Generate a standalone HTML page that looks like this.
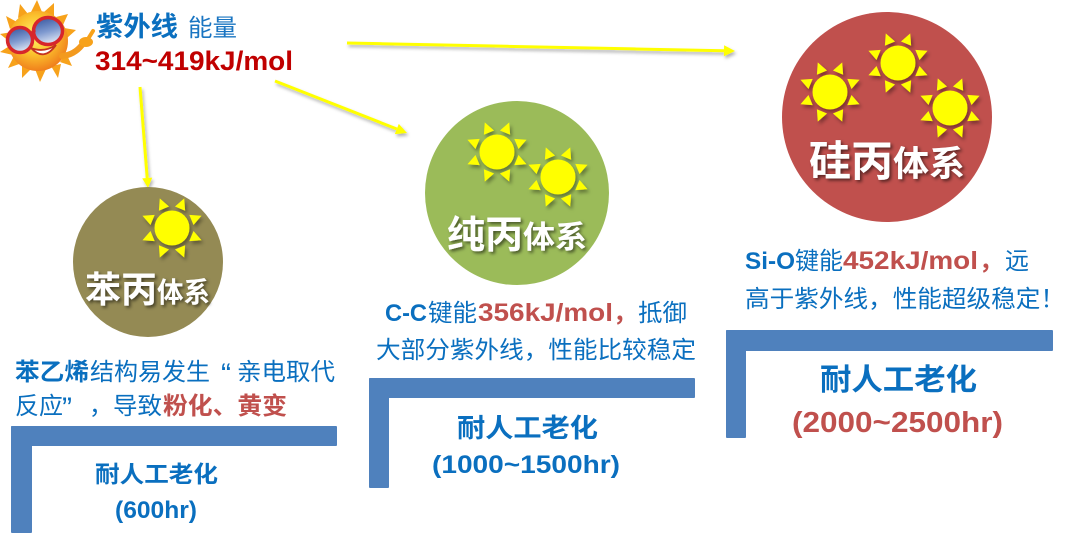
<!DOCTYPE html>
<html>
<head>
<meta charset="utf-8">
<style>
  html,body{margin:0;padding:0;background:#fff;}
  svg{display:block;}
  text{font-family:"Liberation Sans","Noto Sans CJK SC",sans-serif;}
  .cjk{font-family:"Liberation Sans","Noto Sans CJK SC",sans-serif;}
  .b{font-weight:bold;}
  .blue{fill:#0a6fbf;}
  .red{fill:#c0504d;}
  .white{fill:#ffffff;font-weight:bold;}
</style>
</head>
<body>
<svg width="1080" height="540" viewBox="0 0 1080 540" xmlns="http://www.w3.org/2000/svg">
  <defs>
    <filter id="sh" x="-30%" y="-30%" width="160%" height="160%">
      <feDropShadow dx="2" dy="3" stdDeviation="1.8" flood-color="#000" flood-opacity="0.35"/>
    </filter>
    <filter id="tsh" x="-20%" y="-20%" width="140%" height="150%">
      <feDropShadow dx="2" dy="2" stdDeviation="1.5" flood-color="#000" flood-opacity="0.55"/>
    </filter>
    <filter id="ash" x="-10%" y="-50%" width="120%" height="200%">
      <feDropShadow dx="1.5" dy="2.5" stdDeviation="1.5" flood-color="#000" flood-opacity="0.3"/>
    </filter>
    <radialGradient id="face" cx="45%" cy="40%" r="60%">
      <stop offset="0" stop-color="#fff46a"/>
      <stop offset="0.55" stop-color="#fbc02d"/>
      <stop offset="1" stop-color="#f0801c"/>
    </radialGradient>
    <linearGradient id="lens" x1="0" y1="0" x2="0.3" y2="1">
      <stop offset="0" stop-color="#2f4f9a"/>
      <stop offset="0.6" stop-color="#7f9ad0"/>
      <stop offset="1" stop-color="#d5def0"/>
    </linearGradient>
    <g id="sun">
      <g fill="#ffff00">
        <circle cx="0" cy="0" r="17.5"/>
        <g>
          <polygon points="21,-5.5 32,0 21,5.5" transform="rotate(22.5)"/>
          <polygon points="21,-5.5 32,0 21,5.5" transform="rotate(67.5)"/>
          <polygon points="21,-5.5 32,0 21,5.5" transform="rotate(112.5)"/>
          <polygon points="21,-5.5 32,0 21,5.5" transform="rotate(157.5)"/>
          <polygon points="21,-5.5 32,0 21,5.5" transform="rotate(202.5)"/>
          <polygon points="21,-5.5 32,0 21,5.5" transform="rotate(247.5)"/>
          <polygon points="21,-5.5 32,0 21,5.5" transform="rotate(292.5)"/>
          <polygon points="21,-5.5 32,0 21,5.5" transform="rotate(337.5)"/>
        </g>
      </g>
    </g>
  </defs>

  <!-- Mascot sun -->
  <g>
    <g fill="#f7a21b">
      <polygon points="37,0 42,12 31,12"/>
      <polygon points="54,3 54,16 44,12"/>
      <polygon points="68,14 63,25 56,17"/>
      <polygon points="76,30 67,38 64,28"/>
      <polygon points="72,66 60,62 66,53"/>
      <polygon points="58,78 51,66 61,64"/>
      <polygon points="40,82 35,69 46,69"/>
      <polygon points="22,78 22,65 32,68"/>
      <polygon points="8,68 14,56 22,63"/>
      <polygon points="0,52 11,45 13,55"/>
      <polygon points="0,34 12,32 10,42"/>
      <polygon points="6,16 17,22 10,29"/>
      <polygon points="20,4 28,14 18,18"/>
    </g>
    <circle cx="38" cy="41" r="30" fill="url(#face)"/>
    <path d="M62,56 Q74,55 82,45" stroke="#f39a1e" stroke-width="6" fill="none" stroke-linecap="round"/>
    <ellipse cx="86" cy="42" rx="7" ry="5" fill="#f7a21b"/>
    <path d="M88,39 L93,31" stroke="#f7a21b" stroke-width="4" stroke-linecap="round"/>
    <ellipse cx="20" cy="40" rx="12.5" ry="12.5" fill="url(#lens)" stroke="#d7262b" stroke-width="3.5"/>
    <ellipse cx="48" cy="31" rx="14.5" ry="13.5" fill="url(#lens)" stroke="#d7262b" stroke-width="3.5"/>
    <path d="M31,35 Q33,30 35,32" stroke="#d7262b" stroke-width="3" fill="none"/>
    <path d="M31,48 Q44,62 56,45 Q44,53 31,48 Z" fill="#fff" stroke="#c4331e" stroke-width="1.8"/>
  </g>

  <!-- Header text -->
  <text x="96" y="36" font-size="27" class="b cjk" fill="#0a6fbf" textLength="82" lengthAdjust="spacingAndGlyphs">紫外线</text>
  <text x="188" y="36" font-size="24" class="cjk" fill="#1a75c2" textLength="49" lengthAdjust="spacingAndGlyphs">能量</text>
  <text x="95" y="70" font-size="27" class="b" fill="#c00000" textLength="198" lengthAdjust="spacingAndGlyphs">314~419kJ/mol</text>

  <!-- Arrows -->
  <g filter="url(#ash)">
    <line x1="140" y1="87" x2="147.2" y2="178" stroke="#ffff00" stroke-width="3"/>
    <polygon points="148,188 142.2,178.4 152.2,177.6" fill="#ffff00"/>
    <line x1="275" y1="81" x2="396.8" y2="129" stroke="#ffff00" stroke-width="3"/>
    <polygon points="407,133 394.8,134.1 398.8,123.9" fill="#ffff00"/>
    <line x1="347" y1="43" x2="724" y2="50.8" stroke="#ffff00" stroke-width="3"/>
    <polygon points="735,51 724.1,45.3 723.9,56.3" fill="#ffff00"/>
  </g>

  <!-- Circles -->
  <circle cx="148" cy="262" r="75" fill="#948a54"/>
  <circle cx="517" cy="193" r="92" fill="#9bbb59"/>
  <circle cx="887" cy="117" r="105" fill="#c0504d"/>

  <!-- Suns -->
  <use href="#sun" x="172" y="228" filter="url(#sh)"/>
  <use href="#sun" x="497" y="152" filter="url(#sh)"/>
  <use href="#sun" x="558" y="177" filter="url(#sh)"/>
  <use href="#sun" x="830" y="92" filter="url(#sh)"/>
  <use href="#sun" x="898" y="63" filter="url(#sh)"/>
  <use href="#sun" x="950" y="108" filter="url(#sh)"/>

  <!-- Circle labels -->
  <g filter="url(#tsh)">
    <text x="85" y="302" font-size="36" class="white cjk" textLength="72" lengthAdjust="spacingAndGlyphs">苯丙</text>
    <text x="157" y="302" font-size="28" class="white cjk" textLength="53" lengthAdjust="spacingAndGlyphs">体系</text>
    <text x="447" y="248" font-size="38" class="white cjk" textLength="76" lengthAdjust="spacingAndGlyphs">纯丙</text>
    <text x="523" y="248" font-size="31" class="white cjk" textLength="64" lengthAdjust="spacingAndGlyphs">体系</text>
    <text x="809" y="176" font-size="42" class="white cjk" textLength="84" lengthAdjust="spacingAndGlyphs">硅丙</text>
    <text x="893" y="176" font-size="35" class="white cjk" textLength="72" lengthAdjust="spacingAndGlyphs">体系</text>
  </g>

  <!-- Left body text -->
  <text x="15" y="380" font-size="24" class="b blue cjk" textLength="74" lengthAdjust="spacingAndGlyphs">苯乙烯</text>
  <text x="90" y="380" font-size="24" class="blue cjk" textLength="120" lengthAdjust="spacingAndGlyphs">结构易发生</text>
  <text x="221" y="384" font-size="30" class="blue">“</text>
  <text x="237" y="380" font-size="24" class="blue cjk" textLength="98" lengthAdjust="spacingAndGlyphs">亲电取代</text>
  <text x="15" y="414" font-size="24" class="blue cjk" textLength="48" lengthAdjust="spacingAndGlyphs">反应</text>
  <text x="62" y="418" font-size="30" class="blue">”</text>
  <text x="89" y="414" font-size="24" class="blue cjk">，</text>
  <text x="113" y="414" font-size="24" class="blue cjk" textLength="49" lengthAdjust="spacingAndGlyphs">导致</text>
  <text x="163" y="414" font-size="24" class="b red cjk" textLength="124" lengthAdjust="spacingAndGlyphs">粉化、黄变</text>

  <!-- Middle body text -->
  <text x="385" y="321" font-size="24" class="b blue" textLength="42" lengthAdjust="spacingAndGlyphs">C-C</text>
  <text x="428" y="321" font-size="24" class="blue cjk" textLength="49" lengthAdjust="spacingAndGlyphs">键能</text>
  <text x="478" y="321" font-size="25" class="b red" textLength="135" lengthAdjust="spacingAndGlyphs">356kJ/mol</text>
  <text x="613" y="321" font-size="24" class="b red cjk">，</text>
  <text x="638" y="321" font-size="24" class="blue cjk" textLength="49" lengthAdjust="spacingAndGlyphs">抵御</text>
  <text x="376" y="358" font-size="24" class="blue cjk" textLength="320" lengthAdjust="spacingAndGlyphs">大部分紫外线，性能比较稳定</text>

  <!-- Right body text -->
  <text x="745" y="269" font-size="24" class="b blue" textLength="50" lengthAdjust="spacingAndGlyphs">Si-O</text>
  <text x="795" y="269" font-size="24" class="blue cjk" textLength="48" lengthAdjust="spacingAndGlyphs">键能</text>
  <text x="843" y="269" font-size="25" class="b red" textLength="135" lengthAdjust="spacingAndGlyphs">452kJ/mol</text>
  <text x="979" y="269" font-size="24" class="b red cjk">，</text>
  <text x="1005" y="269" font-size="24" class="blue cjk">远</text>
  <text x="745" y="307" font-size="24" class="blue cjk" textLength="320" lengthAdjust="spacingAndGlyphs">高于紫外线，性能超级稳定！</text>

  <!-- Brackets -->
  <g fill="#4f81bd">
    <rect x="11" y="426" width="326" height="20" rx="1"/>
    <rect x="11" y="426" width="21" height="107" rx="1"/>
    <rect x="369" y="378" width="326" height="20" rx="1"/>
    <rect x="369" y="378" width="20" height="110" rx="1"/>
    <rect x="726" y="330" width="327" height="21" rx="1"/>
    <rect x="726" y="330" width="20" height="108" rx="1"/>
  </g>

  <!-- Bracket texts -->
  <text x="95" y="482" font-size="23" class="b blue cjk" textLength="123" lengthAdjust="spacingAndGlyphs">耐人工老化</text>
  <text x="115" y="518" font-size="24" class="b blue" textLength="82" lengthAdjust="spacingAndGlyphs">(600hr)</text>

  <text x="457" y="437" font-size="26" class="b blue cjk" textLength="141" lengthAdjust="spacingAndGlyphs">耐人工老化</text>
  <text x="432" y="473" font-size="25" class="b blue" textLength="188" lengthAdjust="spacingAndGlyphs">(1000~1500hr)</text>

  <text x="820" y="390" font-size="30" class="b blue cjk" textLength="157" lengthAdjust="spacingAndGlyphs">耐人工老化</text>
  <text x="792" y="432" font-size="29" class="b red" textLength="211" lengthAdjust="spacingAndGlyphs">(2000~2500hr)</text>
</svg>
</body>
</html>
